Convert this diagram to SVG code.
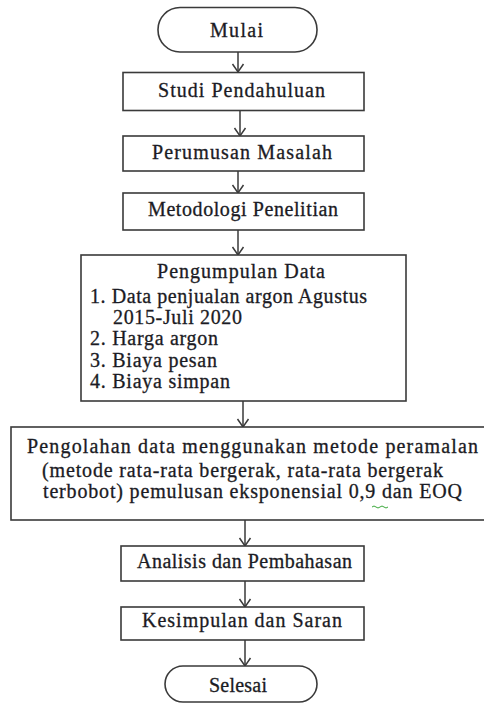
<svg xmlns="http://www.w3.org/2000/svg" width="484" height="706" viewBox="0 0 484 706">
<defs>
<style>
.box{fill:#fff;stroke:#3a3a3a;stroke-width:1.6}
.t{font-family:"Liberation Serif","Times New Roman",serif;font-size:20px;fill:#1b1b24;stroke:#1b1b24;stroke-width:0.3}
.c{stroke:#3a3a3a;stroke-width:1.5;fill:none}
</style>
<marker id="ah" viewBox="-10 -7 12 14" refX="0" refY="0" markerWidth="12" markerHeight="14" markerUnits="userSpaceOnUse" orient="auto">
<path d="M-8,-5.5 L0,0 L-8,5.5" fill="none" stroke="#3a3a3a" stroke-width="1.5"/>
</marker>
</defs>
<rect width="484" height="706" fill="#fff"/>
<g id="connectors">
<line class="c" x1="238" y1="52" x2="238" y2="72" marker-end="url(#ah)"/>
<line class="c" x1="240" y1="111" x2="240" y2="136" marker-end="url(#ah)"/>
<line class="c" x1="238" y1="171" x2="238" y2="193" marker-end="url(#ah)"/>
<line class="c" x1="238" y1="230" x2="238" y2="255" marker-end="url(#ah)"/>
<line class="c" x1="243" y1="401" x2="243" y2="427" marker-end="url(#ah)"/>
<line class="c" x1="245" y1="520" x2="245" y2="546" marker-end="url(#ah)"/>
<line class="c" x1="245" y1="581" x2="245" y2="607" marker-end="url(#ah)"/>
<line class="c" x1="245" y1="640" x2="245" y2="666" marker-end="url(#ah)"/>
</g>
<g id="mulai">
<rect class="box" x="158" y="7.5" width="159" height="44.5" rx="22" ry="22"/>
<text class="t" x="210" y="36.5" textLength="53" lengthAdjust="spacing">Mulai</text>
</g>
<g id="studi">
<rect class="box" x="123" y="72.5" width="241" height="38"/>
<text class="t" x="158" y="97" textLength="167" lengthAdjust="spacing">Studi Pendahuluan</text>
</g>
<g id="perumusan">
<rect class="box" x="123" y="136" width="241" height="35"/>
<text class="t" x="152" y="159" textLength="180" lengthAdjust="spacing">Perumusan Masalah</text>
</g>
<g id="metodologi">
<rect class="box" x="123" y="193" width="241" height="37"/>
<text class="t" x="148" y="216" textLength="190" lengthAdjust="spacing">Metodologi Penelitian</text>
</g>
<g id="pengumpulan">
<rect class="box" x="81" y="255" width="325" height="146"/>
<text class="t" x="157" y="278" textLength="168" lengthAdjust="spacing">Pengumpulan Data</text>
<text class="t" x="90" y="303" textLength="277" lengthAdjust="spacing">1. Data penjualan argon Agustus</text>
<text class="t" x="113" y="324" textLength="129" lengthAdjust="spacing">2015-Juli 2020</text>
<text class="t" x="90" y="345" textLength="128" lengthAdjust="spacing">2. Harga argon</text>
<text class="t" x="90" y="367" textLength="127" lengthAdjust="spacing">3. Biaya pesan</text>
<text class="t" x="90" y="388" textLength="140" lengthAdjust="spacing">4. Biaya simpan</text>
</g>
<g id="pengolahan">
<rect class="box" x="11" y="427" width="476" height="93"/>
<text class="t" x="27" y="453" textLength="451" lengthAdjust="spacing">Pengolahan data menggunakan metode peramalan</text>
<text class="t" x="42" y="477" textLength="401" lengthAdjust="spacing">(metode rata-rata bergerak, rata-rata bergerak</text>
<text class="t" x="43" y="498" textLength="419" lengthAdjust="spacing">terbobot) pemulusan eksponensial 0,9 dan EOQ</text>
<path d="M372,507 q2,-2 4,0 t4,0 t4,0 t4,0" fill="none" stroke="#3aa83a" stroke-width="1"/>
</g>
<g id="analisis">
<rect class="box" x="121" y="546" width="243" height="35"/>
<text class="t" x="137" y="568" textLength="215" lengthAdjust="spacing">Analisis dan Pembahasan</text>
</g>
<g id="kesimpulan">
<rect class="box" x="121" y="607" width="243" height="33"/>
<text class="t" x="142" y="627" textLength="200" lengthAdjust="spacing">Kesimpulan dan Saran</text>
</g>
<g id="selesai">
<rect class="box" x="165" y="666" width="152" height="36" rx="18" ry="18"/>
<text class="t" x="209" y="692" textLength="58" lengthAdjust="spacing">Selesai</text>
</g>
</svg>
